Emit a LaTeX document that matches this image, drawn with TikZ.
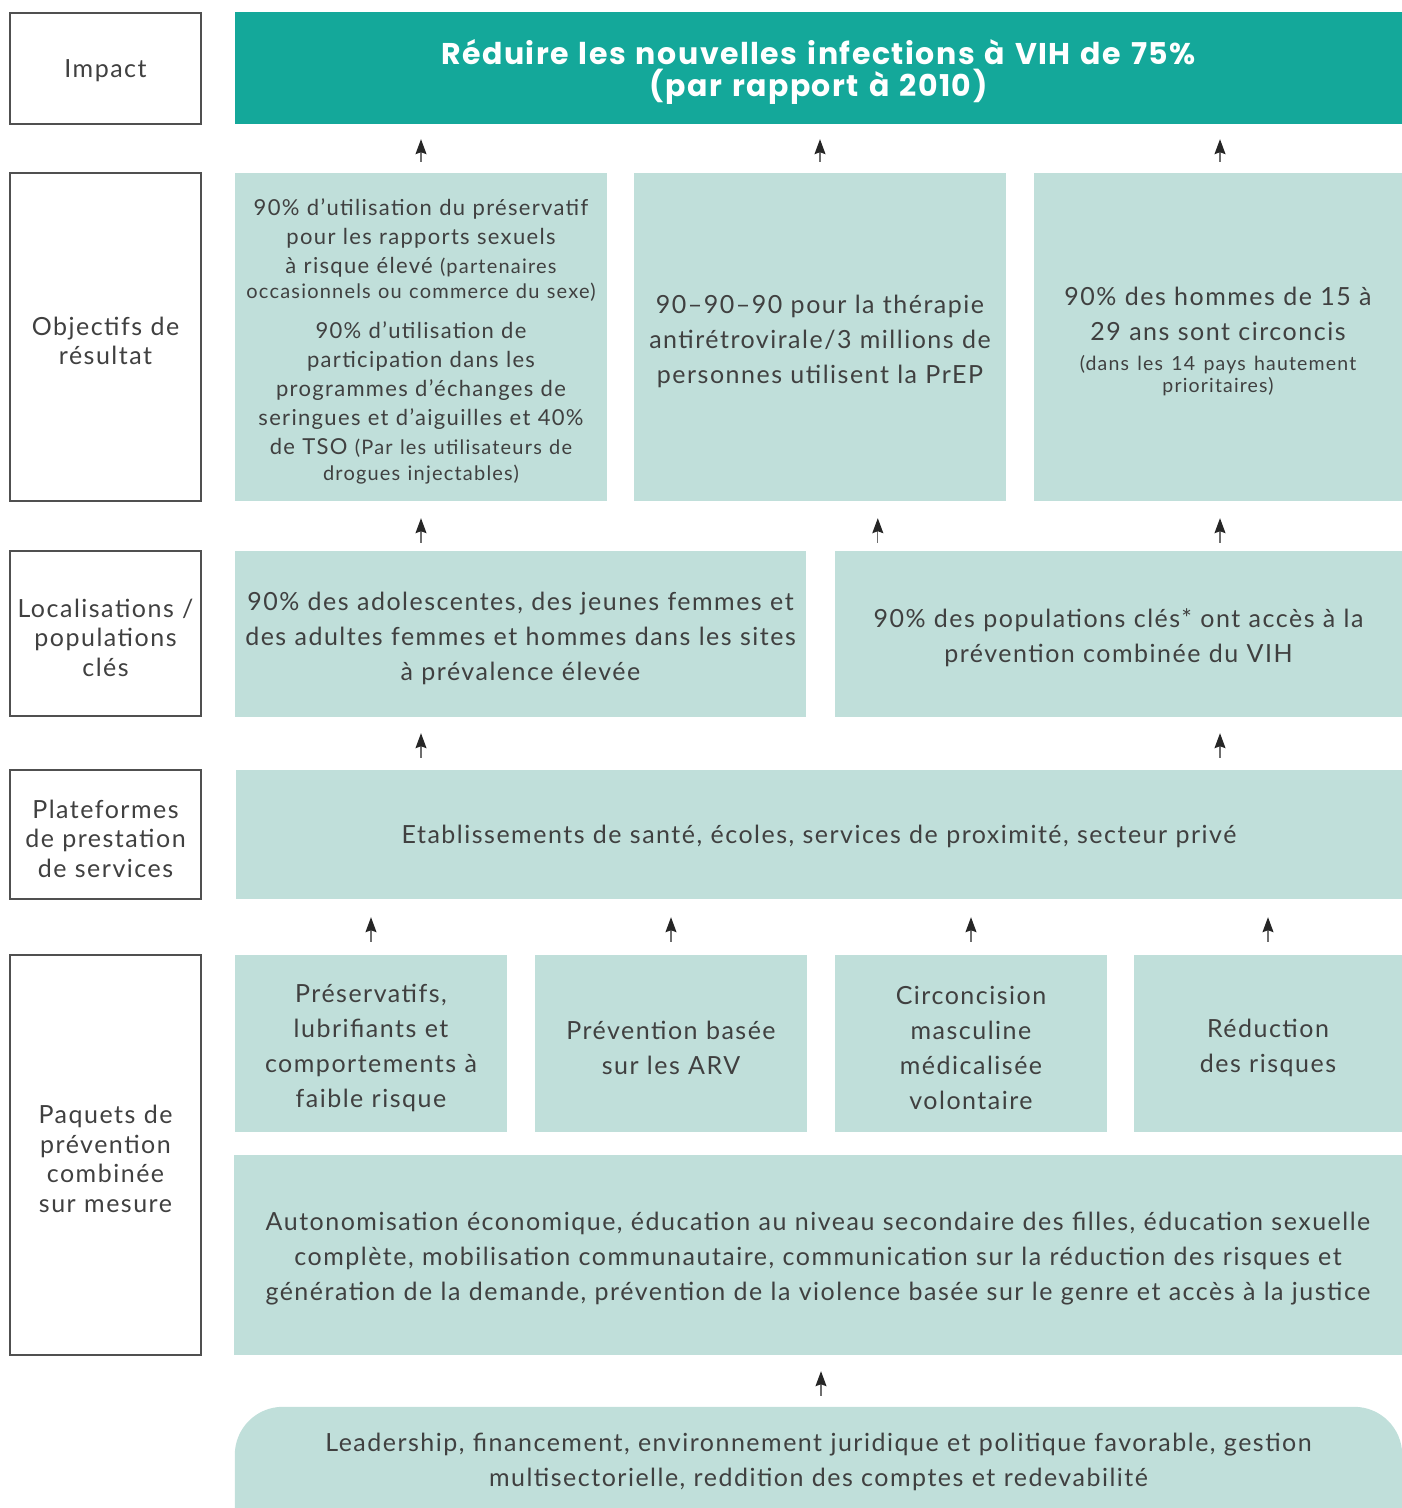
\documentclass[tikz,border=0pt]{standalone}
\usepackage{fontspec}
\setmainfont{Lato}[LetterSpace=6]
\newfontfamily\titlefont{Poppins}[LetterSpace=5]
\usetikzlibrary{arrows.meta,calc,backgrounds}
\definecolor{titlec}{RGB}{20,168,154}
\definecolor{boxc}{RGB}{192,223,218}
\definecolor{txtc}{RGB}{64,64,64}
\definecolor{linec}{RGB}{80,80,80}
\definecolor{arrc}{RGB}{110,110,110}
\newcommand\mydropend{\par\vspace{-8pt}}
\begin{document}
\begin{tikzpicture}[x=1pt,y=-1pt,
  down/.style={execute at end node=\mydropend},
  lab/.style={draw=linec, line width=1.1pt, fill=white, text=txtc, minimum width=191pt,
    text width=189pt, align=center, inner sep=0pt, down, font=\fontsize{25}{29.5}\selectfont},
  tbox/.style={fill=boxc, text=txtc, align=center, inner sep=0pt, down, font=\fontsize{25}{35}\selectfont},
  arr/.style={-{Stealth[length=15pt,width=11pt,inset=2pt,color=black!85]}, line width=1.2pt, draw=arrc,
    shorten <=11pt, shorten >=15pt}
]
\useasboundingbox (0,0) rectangle (1402,1508);
\clip (0,0) rectangle (1402,1508);

% left labels
\node[lab, minimum height=111pt] (limpact) at (105.5,68.5) {Impact};
\node[lab, minimum height=328pt] (lobj) at (105.5,337) {Objectifs de\\ résultat};
\node[lab, minimum height=165pt] (lloc) at (105.5,633.5) {Localisations /\\ populations\\ clés};
\node[lab, minimum height=129pt] (lplat) at (105.5,834.5) {Plateformes\\ de prestation\\ de services};
\node[lab, minimum height=400pt] (lpaq) at (105.5,1155) {Paquets de\\ prévention\\ combinée\\ sur mesure};

% impact
\node[fill=titlec, text=white, align=center, inner sep=0pt, minimum width=1167pt, minimum height=112pt,
  text width=1160pt, down, font=\titlefont\fontsize{30}{32}\selectfont\bfseries] (title) at (818.5,68)
  {Réduire les nouvelles infections à VIH de 75\%\\ (par rapport à 2010)};

% objectives
\node[tbox, minimum width=372pt, minimum height=328pt, text width=370pt,
  font=\fontsize{22}{29}\selectfont] (obj1) at (421,337)
  {90\% d’utilisation du préservatif\\ pour les rapports sexuels\\
   à risque élevé {\fontsize{20}{24}\selectfont (partenaires}\\[-4pt]
   {\fontsize{20}{24}\selectfont occasionnels ou commerce du sexe)}\\[11pt]
   90\% d’utilisation de\\ participation dans les\\ programmes d’échanges de\\
   seringues et d’aiguilles et 40\%\\
   de TSO {\fontsize{20}{24}\selectfont (Par les utilisateurs de}\\[-3pt]
   {\fontsize{20}{24}\selectfont drogues injectables)}};
\node[tbox, minimum width=372pt, minimum height=328pt, text width=370pt] (obj2) at (820,337)
  {90–90–90 pour la thérapie\\ antirétrovirale/3 millions de\\ personnes utilisent la PrEP};
\node[tbox, minimum width=368pt, minimum height=328pt, text width=366pt] (obj3) at (1218,337)
  {90\% des hommes de 15 à\\ 29 ans sont circoncis\\[-5pt]
   {\fontsize{19.5}{22}\selectfont (dans les 14 pays hautement}\\[-13pt]
   {\fontsize{19.5}{22}\selectfont prioritaires)}};

% localisations
\node[tbox, minimum width=571pt, minimum height=166pt, text width=570pt] (loc1) at (520.5,634)
  {90\% des adolescentes, des jeunes femmes et\\ des adultes femmes et hommes dans les sites\\ à prévalence élevée};
\node[tbox, minimum width=567pt, minimum height=166pt, text width=565pt] (loc2) at (1118.5,634)
  {90\% des populations clés* ont accès à la\\ prévention combinée du VIH};

% plateformes
\node[tbox, minimum width=1166pt, minimum height=129pt, text width=1160pt] (plat) at (819,834.5)
  {Etablissements de santé, écoles, services de proximité, secteur privé};

% paquets
\node[tbox, minimum width=272pt, minimum height=177pt, text width=271pt] (p1) at (371,1043.5)
  {Préservatifs,\\ lubrifiants et\\ comportements à\\ faible risque};
\node[tbox, minimum width=272pt, minimum height=177pt, text width=271pt] (p2) at (671,1043.5)
  {Prévention basée\\ sur les ARV};
\node[tbox, minimum width=272pt, minimum height=177pt, text width=271pt] (p3) at (971,1043.5)
  {Circoncision\\ masculine\\ médicalisée\\ volontaire};
\node[tbox, minimum width=268pt, minimum height=177pt, text width=267pt] (p4) at (1268,1043.5)
  {Réduction\\ des risques};

\node[tbox, minimum width=1168pt, minimum height=200pt, text width=1167pt] (auto) at (818,1255)
  {Autonomisation économique, éducation au niveau secondaire des filles, éducation sexuelle\\
   complète, mobilisation communautaire, communication sur la réduction des risques et\\
   génération de la demande, prévention de la violence basée sur le genre et accès à la justice};

% bottom foundation
\node[text=txtc, align=center, inner sep=0pt, minimum width=1167pt, minimum height=101pt,
  text width=1160pt, down, font=\fontsize{25}{35}\selectfont] (base) at (818.5,1457.5)
  {Leadership, financement, environnement juridique et politique favorable, gestion\\
   multisectorielle, reddition des comptes et redevabilité};
\begin{scope}[on background layer]
  \fill[boxc, rounded corners=48pt] (base.north west) rectangle ([yshift=-80pt]base.south east);
\end{scope}

% arrows
\draw[arr] (obj1.north) -- (obj1.north |- title.south);
\draw[arr] (obj2.north) -- (obj2.north |- title.south);
\draw[arr] ([xshift=2pt]obj3.north) -- ([xshift=2pt]obj3.north |- title.south);

\coordinate (a2) at ($(loc2.north west)+(43,0)$);
\draw[arr, shorten <=8pt, shorten >=17pt] (loc1.north -| obj1.south) -- (obj1.south);
\draw[arr, shorten <=8pt, shorten >=17pt] (a2) -- (a2 |- obj2.south);
\draw[arr, shorten <=8pt, shorten >=17pt] ([xshift=2pt]loc2.north -| obj3.south) -- ([xshift=2pt]obj3.south);

\draw[arr, shorten <=12pt, shorten >=16pt] (plat.north -| obj1.south) -- (loc1.south -| obj1.south);
\draw[arr, shorten <=12pt, shorten >=16pt] ([xshift=2pt]plat.north -| obj3.south) -- ([xshift=2pt]loc2.south -| obj3.south);

\foreach \p in {p1,p2,p3,p4}
  \draw[arr, shorten <=13pt, shorten >=18pt] (\p.north) -- (\p.north |- plat.south);

\draw[arr, shorten <=11pt, shorten >=16pt] ([xshift=2.5pt]base.north) -- ([xshift=2.5pt]base.north |- auto.south);
\end{tikzpicture}
\end{document}
